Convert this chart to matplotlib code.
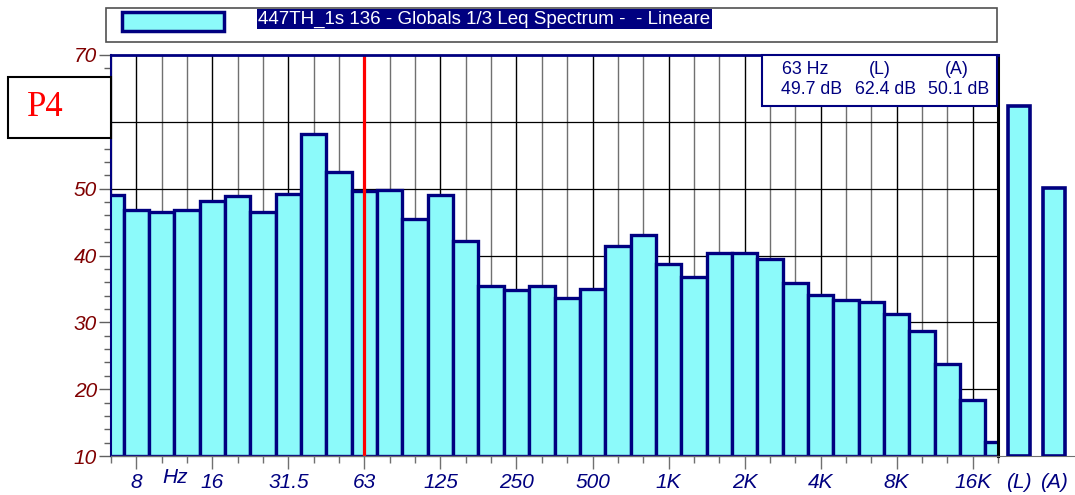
import numpy as np
import matplotlib
matplotlib.use("Agg")
import matplotlib.pyplot as plt
from matplotlib.patches import Rectangle

plt.rcParams['font.family'] = ['Liberation Sans', 'DejaVu Sans']

# 1/3 octave bands 6.3 Hz .. 20 kHz
bands = ['6.3', '8', '10', '12.5', '16', '20', '25', '31.5', '40', '50',
         '63', '80', '100', '125', '160', '200', '250', '315', '400', '500',
         '630', '800', '1K', '1.25K', '1.6K', '2K', '2.5K', '3.15K', '4K', '5K',
         '6.3K', '8K', '10K', '12.5K', '16K', '20K']
levels = [49.0, 46.8, 46.5, 46.8, 48.2, 48.9, 46.5, 49.2, 58.2, 52.5,
          49.7, 49.8, 45.5, 49.1, 42.2, 35.5, 34.9, 35.5, 33.7, 35.0,
          41.4, 43.1, 38.7, 36.8, 40.4, 40.3, 39.5, 35.9, 34.1, 33.4,
          33.1, 31.3, 28.7, 23.8, 18.4, 12.1]
labelled = ['8', '16', '31.5', '63', '125', '250', '500', '1K', '2K', '4K', '8K', '16K']
tot_names = ['(L)', '(A)']
tot_levels = [62.4, 50.1]
cursor_band = '63'
legend_label = "447TH_1s 136 - Globals 1/3 Leq Spectrum -  - Lineare"
tag = "P4"

W, H = 1075, 495
fill = '#8cfafa'
navy = '#000080'
dred = '#800000'
tfs = 15


def fx(px):
    return px / W


def fy(py):
    return 1 - py / H


fig = plt.figure(figsize=(W / 100, H / 100), dpi=100)

ax = fig.add_axes([fx(111), fy(456), (998 - 111) / W, (456 - 55) / H])
x = np.arange(len(bands))
lv = np.array(levels)
ymin, ymax = 10, 70

# grid
for i, b in enumerate(bands):
    ax.axvline(i, color='black' if b in labelled else '#707070', lw=1, zorder=1)
for v in range(20, 70, 10):
    ax.axhline(v, color='black', lw=0.9, zorder=1)

ax.bar(x, lv - ymin, bottom=ymin, width=1.0, color=fill, edgecolor=navy,
       linewidth=2.4, zorder=3)
ic = bands.index(cursor_band)
ax.axvline(ic, color='red', lw=2.3, zorder=5)

ax.set_xlim(0, len(bands) - 1)
ax.set_ylim(ymin, ymax)

maj = [bands.index(b) for b in labelled]
mnr = [i for i in x if i not in maj]
ax.set_xticks(maj)
ax.set_xticklabels(labelled)
ax.set_xticks(mnr, minor=True)
ax.tick_params(axis='x', which='major', length=9, width=1, color='#707070',
               labelcolor=navy, labelsize=tfs, pad=3)
ax.tick_params(axis='x', which='minor', length=5, width=1, color='#707070')
for t in ax.get_xticklabels():
    t.set_fontstyle('italic')
ax.text(2.55, -0.03, "Hz", transform=ax.get_xaxis_transform(), ha='center',
        va='top', color=navy, fontsize=tfs, style='italic')

ax.set_yticks(range(ymin, ymax + 1, 10))
ax.set_yticks(range(ymin, ymax + 1, 2), minor=True)
ax.tick_params(axis='y', which='major', length=9, width=1, color='#606060',
               labelcolor=dred, labelsize=tfs, pad=1)
ax.tick_params(axis='y', which='minor', length=5, width=1, color='#606060')
for t in ax.get_yticklabels():
    t.set_fontstyle('italic')

ax.spines['top'].set_color(navy)
ax.spines['top'].set_linewidth(2)
ax.spines['left'].set_color(navy)
ax.spines['left'].set_linewidth(1.5)
ax.spines['right'].set_color('black')
ax.spines['right'].set_linewidth(2.2)
ax.spines['bottom'].set_color('#707070')
ax.spines['bottom'].set_linewidth(1)
for s in ax.spines.values():
    s.set_zorder(6)

# overall levels
ax2 = fig.add_axes([fx(998), fy(456), (W - 998) / W, (456 - 55) / H])
ax2.bar([0, 1], np.array(tot_levels) - ymin, bottom=ymin, width=0.63,
        color=fill, edgecolor=navy, linewidth=2.6, zorder=3)
ax2.set_xlim(-0.6, 1.6)
ax2.set_ylim(ymin, ymax)
ax2.set_yticks([])
ax2.set_xticks([0, 1])
ax2.set_xticklabels(tot_names)
ax2.tick_params(axis='x', length=0, labelcolor=navy, labelsize=tfs, pad=12)
for t in ax2.get_xticklabels():
    t.set_fontstyle('italic')
for k in ['top', 'left', 'right']:
    ax2.spines[k].set_visible(False)
ax2.spines['bottom'].set_color('#707070')
ax2.patch.set_alpha(0)

# cursor readout box
fig.patches.append(Rectangle((fx(762), fy(106)), (997 - 762) / W, 51 / H,
                             transform=fig.transFigure, facecolor='white',
                             edgecolor=navy, lw=1.5, zorder=10))
fs = 12.8
fig.text(fx(805), fy(69), f"{cursor_band} Hz", ha='center', va='center',
         color=navy, fontsize=fs, zorder=11)
fig.text(fx(812), fy(89), f"{levels[ic]:.1f} dB", ha='center', va='center',
         color=navy, fontsize=fs, zorder=11)
for cx, cx2, nm, val in zip([880, 957], [886, 959], tot_names, tot_levels):
    fig.text(fx(cx), fy(69), nm, ha='center', va='center', color=navy,
             fontsize=fs, zorder=11)
    fig.text(fx(cx2), fy(89), f"{val:.1f} dB", ha='center', va='center',
             color=navy, fontsize=fs, zorder=11)

# legend strip
fig.patches.append(Rectangle((fx(106), fy(42)), (997 - 106) / W, 34 / H,
                             transform=fig.transFigure, facecolor='white',
                             edgecolor='#505050', lw=1.2, zorder=10))
fig.patches.append(Rectangle((fx(122), fy(31)), (224 - 122) / W, 19 / H,
                             transform=fig.transFigure, facecolor=fill,
                             edgecolor=navy, lw=2.5, zorder=11))
fig.text(fx(258), fy(19), legend_label, ha='left', va='center', color='white',
         fontsize=13.5, zorder=11,
         bbox=dict(boxstyle='square,pad=0.08', facecolor=navy, edgecolor='none'))

# tag box
fig.patches.append(Rectangle((fx(8), fy(138)), (111 - 8) / W, 61 / H,
                             transform=fig.transFigure, facecolor='white',
                             edgecolor='black', lw=1.5, zorder=10))
fig.text(fx(45), fy(108), tag, ha='center', va='center', color='red',
         fontsize=25, family='Liberation Serif', zorder=11)

fig.savefig("out.png", dpi=100)
